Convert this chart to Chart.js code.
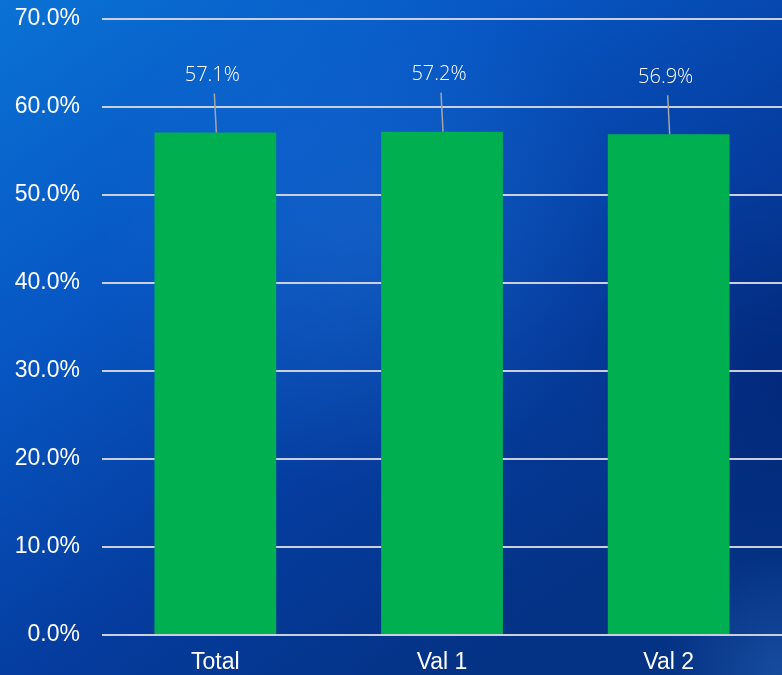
<!DOCTYPE html>
<html>
<head>
<meta charset="utf-8">
<script src="https://cdn.jsdelivr.net/npm/chart.js@4/dist/chart.umd.min.js"></script>
<style>
html,body{margin:0;padding:0;background:#0a4fb8;}
#wrap{width:782px;height:675px;position:relative;}
</style>
</head>
<body>
<div id="wrap"><canvas id="c" width="782" height="675"></canvas></div>
<script>
const categories = ['Total', 'Val 1', 'Val 2'];
const values = [57.1, 57.2, 56.9];
const valueLabels = ['57.1%', '57.2%', '56.9%'];

const bgPlugin = {
  id: 'bg',
  beforeDraw(chart) {
    const ctx = chart.ctx, w = chart.width, h = chart.height;
    ctx.save();
    let g = ctx.createLinearGradient(0, 0, w * 0.6, h);
    g.addColorStop(0, '#0a72d4');
    g.addColorStop(0.35, '#0757c4');
    g.addColorStop(0.7, '#053c9e');
    g.addColorStop(1, '#043284');
    ctx.fillStyle = g;
    ctx.fillRect(0, 0, w, h);
    let r = ctx.createRadialGradient(360, 230, 10, 360, 230, 260);
    r.addColorStop(0, 'rgba(40,130,230,0.3)');
    r.addColorStop(1, 'rgba(40,130,230,0)');
    ctx.fillStyle = r;
    ctx.fillRect(0, 0, w, h);
    let r2 = ctx.createRadialGradient(782, 675, 5, 782, 675, 120);
    r2.addColorStop(0, 'rgba(40,100,180,0.5)');
    r2.addColorStop(1, 'rgba(40,100,180,0)');
    ctx.fillStyle = r2;
    ctx.fillRect(0, 0, w, h);
    let r3 = ctx.createRadialGradient(782, 380, 5, 782, 380, 200);
    r3.addColorStop(0, 'rgba(0,30,110,0.5)');
    r3.addColorStop(1, 'rgba(0,30,110,0)');
    ctx.fillStyle = r3;
    ctx.fillRect(0, 0, w, h);
    ctx.restore();
  }
};

const labelPlugin = {
  id: 'vlabels',
  afterDatasetsDraw(chart) {
    const ctx = chart.ctx;
    const meta = chart.getDatasetMeta(0);
    ctx.save();
    meta.data.forEach((bar, i) => {
      const x = bar.x, top = bar.y;
      const ly = top - 57;
      ctx.strokeStyle = '#a6a6a6';
      ctx.lineWidth = 1.5;
      ctx.beginPath();
      ctx.moveTo(x - 1, ly + 18);
      ctx.lineTo(x + 1, top);
      ctx.stroke();
      ctx.fillStyle = '#ffffff';
      ctx.font = '300 20px "Open Sans", "Noto Sans", sans-serif';
      ctx.textAlign = 'center';
      ctx.textBaseline = 'middle';
      ctx.fillText(valueLabels[i], x - 3, ly);
    });
    ctx.restore();
  }
};

new Chart(document.getElementById('c'), {
  type: 'bar',
  data: {
    labels: categories,
    datasets: [{
      data: values,
      backgroundColor: '#00b050',
      borderWidth: 0,
      barPercentage: 0.537,
      categoryPercentage: 1.0
    }]
  },
  options: {
    responsive: false,
    animation: false,
    devicePixelRatio: 1,
    layout: { padding: { top: 19, right: 0, left: 0, bottom: 0 } },
    plugins: { legend: { display: false }, tooltip: { enabled: false } },
    scales: {
      x: {
        grid: { display: false, drawTicks: false },
        border: { display: false },
        ticks: { color: '#ffffff', font: { family: '"Liberation Sans", Arial, sans-serif', size: 23 }, padding: 14 },
        afterFit(s) { s.height = 40; s.paddingLeft = 0; s.paddingRight = 0; }
      },
      y: {
        min: 0, max: 70,
        ticks: {
          stepSize: 10,
          color: '#ffffff',
          font: { family: '"Liberation Sans", Arial, sans-serif', size: 23 },
          padding: 22,
          callback: v => v.toFixed(1) + '%'
        },
        grid: { color: '#c9cfdc', lineWidth: 2, drawTicks: false },
        border: { display: false },
        afterFit(s) { s.width = 102; s.paddingTop = 0; s.paddingBottom = 0; }
      }
    }
  },
  plugins: [bgPlugin, labelPlugin]
});
</script>
</body>
</html>
